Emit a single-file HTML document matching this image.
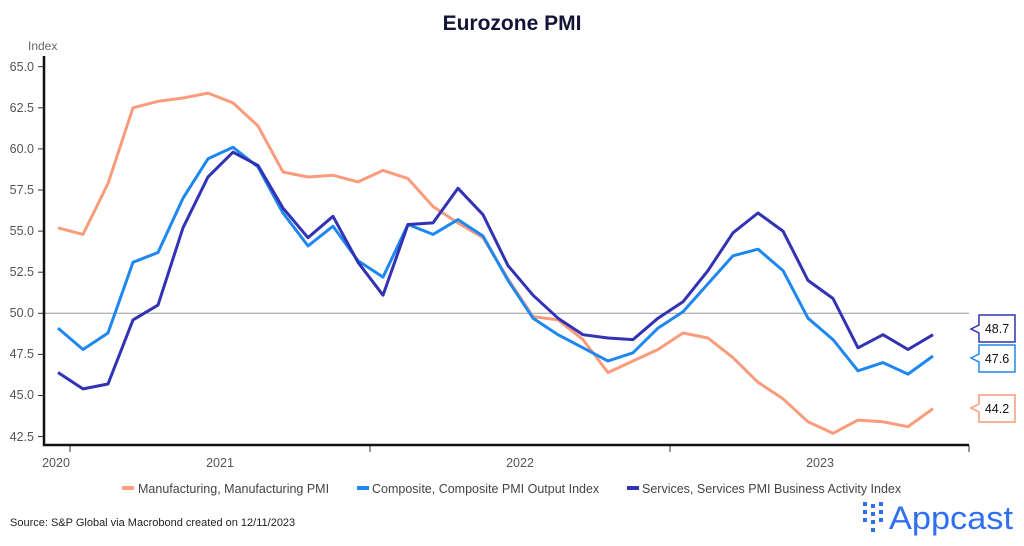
<!DOCTYPE html>
<html><head><meta charset="utf-8"><style>
body{margin:0;background:#fff;width:1024px;height:541px;overflow:hidden;font-family:"Liberation Sans",sans-serif}
</style></head><body>
<svg width="1024" height="541" viewBox="0 0 1024 541" xmlns="http://www.w3.org/2000/svg" font-family="Liberation Sans, sans-serif">
<text x="512" y="30" text-anchor="middle" font-size="21" font-weight="bold" fill="#141438">Eurozone PMI</text>
<text x="28" y="50" font-size="12" fill="#666">Index</text>
<g font-size="12.5" fill="#555" text-anchor="end">
<text x="34" y="71">65.0</text><text x="34" y="112">62.5</text><text x="34" y="153">60.0</text><text x="34" y="194">57.5</text><text x="34" y="235">55.0</text><text x="34" y="276">52.5</text><text x="34" y="317">50.0</text><text x="34" y="358">47.5</text><text x="34" y="399">45.0</text><text x="34" y="441">42.5</text>
</g>
<g stroke="#333" stroke-width="1">
<line x1="38" y1="66.7" x2="44" y2="66.7"/><line x1="38" y1="107.8" x2="44" y2="107.8"/><line x1="38" y1="148.9" x2="44" y2="148.9"/><line x1="38" y1="190" x2="44" y2="190"/><line x1="38" y1="231.1" x2="44" y2="231.1"/><line x1="38" y1="272.2" x2="44" y2="272.2"/><line x1="38" y1="313.3" x2="44" y2="313.3"/><line x1="38" y1="354.4" x2="44" y2="354.4"/><line x1="38" y1="395.5" x2="44" y2="395.5"/><line x1="38" y1="436.6" x2="44" y2="436.6"/>
<line x1="70" y1="445" x2="70" y2="452"/><line x1="370" y1="445" x2="370" y2="452"/><line x1="670" y1="445" x2="670" y2="452"/><line x1="969" y1="445" x2="969" y2="452"/>
</g>
<line x1="44" y1="313.3" x2="969" y2="313.3" stroke="#999" stroke-width="1"/>
<polyline fill="none" stroke="#111" stroke-width="2.5" points="44,56 44,445 969,445"/>
<g font-size="12.5" fill="#555" text-anchor="middle">
<text x="56" y="467">2020</text><text x="220" y="467">2021</text><text x="520" y="467">2022</text><text x="820" y="467">2023</text>
</g>
<polyline fill="none" stroke="#fa9c7c" stroke-width="3" stroke-linejoin="round" points="58,227.8 83,234.4 108,183.5 133,107.8 158,101.3 183,98 208,93.1 233,102.9 258,126 283,172 308,177 333,175.3 358,181.9 383,170.4 408,178.6 433,206.5 458,223 483,237.7 508,278.8 533,316.6 558,319.9 583,339.6 608,372.5 633,361 658,349.5 683,333 708,338 733,357.7 758,382.3 783,398.8 808,421.8 833,433.3 858,420.1 883,421.8 908,426.7 933,408.6"/>
<polyline fill="none" stroke="#1e88f0" stroke-width="3" stroke-linejoin="round" points="58,328.1 83,349.5 108,333 133,262.3 158,252.5 183,198.2 208,158.8 233,147.3 258,167 283,213 308,245.9 333,226.2 358,260.7 383,277.1 408,224.5 433,234.4 458,219.6 483,236 508,280.4 533,318.2 558,334.7 583,347.8 608,361 633,352.8 658,328.1 683,311.7 708,283.7 733,255.8 758,249.2 783,270.6 808,318.2 833,339.6 858,370.8 883,362.6 908,374.1 933,356"/>
<polyline fill="none" stroke="#3232b4" stroke-width="3" stroke-linejoin="round" points="58,372.5 83,388.9 108,384 133,319.9 158,305.1 183,227.8 208,176.9 233,152.2 258,165.4 283,208.1 308,237.7 333,216.3 358,262.3 383,295.2 408,224.5 433,222.9 458,188.3 483,214.7 508,265.6 533,295.2 558,318.2 583,334.7 608,338 633,339.6 658,318.2 683,301.8 708,270.6 733,232.8 758,213 783,231.1 808,280.4 833,298.5 858,347.8 883,334.7 908,349.5 933,334.7"/>
<g font-size="12.5" fill="#111">
<path d="M979,315 H1015 V342 H979 V333 L971,329 L979,325 Z" fill="#fff" stroke="#3232b4" stroke-width="1.5"/><text x="997" y="333" text-anchor="middle">48.7</text>
<path d="M979,345 H1015 V372 H979 V362 L971,358 L979,354 Z" fill="#fff" stroke="#1e88f0" stroke-width="1.5"/><text x="997" y="363" text-anchor="middle">47.6</text>
<path d="M979,395 H1015 V422 H979 V412 L971,408 L979,404 Z" fill="#fff" stroke="#fa9c7c" stroke-width="1.5"/><text x="997" y="413" text-anchor="middle">44.2</text>
</g>
<g font-size="12.5" fill="#444">
<rect x="122" y="486" width="12" height="4" fill="#fa9c7c"/><text x="138" y="493">Manufacturing, Manufacturing PMI</text>
<rect x="357" y="486" width="12" height="4" fill="#1e88f0"/><text x="372" y="493">Composite, Composite PMI Output Index</text>
<rect x="627" y="486" width="12" height="4" fill="#3232b4"/><text x="642" y="493">Services, Services PMI Business Activity Index</text>
</g>
<text x="10" y="526" font-size="11" fill="#222">Source: S&amp;P Global via Macrobond created on 12/11/2023</text>
<g fill="#2f6ff0">
<rect x="863" y="502" width="4" height="4"/><rect x="863" y="510" width="4" height="4"/><rect x="863" y="518" width="4" height="4"/>
<rect x="871" y="504" width="4" height="4"/><rect x="871" y="512" width="4" height="4"/><rect x="871" y="520" width="4" height="4"/><rect x="871" y="528" width="4" height="4"/>
<rect x="879" y="502" width="4" height="4"/><rect x="879" y="510" width="4" height="4"/><rect x="879" y="518" width="4" height="4"/>
<text x="889" y="529" font-size="32" textLength="124" lengthAdjust="spacingAndGlyphs">Appcast</text>
</g>
</svg>
</body></html>
